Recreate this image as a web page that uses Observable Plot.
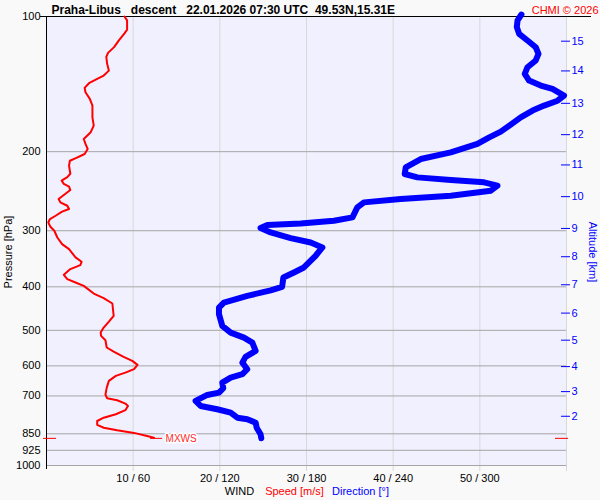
<!DOCTYPE html>
<html><head><meta charset="utf-8">
<script src="https://cdn.jsdelivr.net/npm/d3@7"></script>
<script src="https://cdn.jsdelivr.net/npm/@observablehq/plot@0.6"></script>
<style>body{margin:0;background:#f9f9f9;} svg text{white-space:pre;}</style>
</head><body>
<div id="chart"></div>
<script>
// Wind speed profile (pressure hPa, speed m/s)
const speedP = [100,102,107,109,113,117,120.5,123,127.5,132,135.4,137.7,140.8,144.2,147.5,152.6,157.9,167.7,175,181,187.4,192.2,197.2,202.4,206.5,209.5,214.9,224,228,232,236,239.3,243.5,249.8,255,259.4,263.9,268.4,272,277.8,282.6,287.5,294,300,310.6,321.3,329.6,344,351.8,357.8,365.2,376,384.5,391.3,398,414,424,435.7,464,478,493,505.8,514.5,526,546,557.6,573,584.8,597,610,621,631.7,648,670.8,696,708,715.5,728,737,753,769,782.5,796,812,824,835,846,860,867];
const speedV = [9.0,9.3,9.3,9.0,8.35,7.8,7.1,6.9,7.0,7.2,6.6,5.85,4.9,4.4,4.5,5.0,5.3,5.3,5.45,5.1,4.3,4.5,4.75,4.4,3.45,2.7,2.6,2.75,2.4,1.75,2.0,2.6,2.75,2.0,1.4,1.6,2.4,2.6,1.8,1.05,0.4,0.2,0.45,0.9,1.25,1.8,2.6,3.35,4.05,3.9,2.75,2.0,2.4,3.35,4.3,5.45,6.6,7.6,7.75,7.2,6.6,6.25,6.3,6.8,6.95,7.75,8.9,9.9,10.5,10.1,9.1,8.0,7.2,6.95,6.8,7.0,8.15,9.1,9.4,9.1,8.0,6.6,5.85,5.85,6.6,8.15,10.1,11.6,12.4];

// Wind direction profile (pressure hPa, direction deg)
const dirP = [99,102,105.6,109.3,113.1,117.1,121.1,125.3,129.7,134.2,138.9,142.5,145,150,154,157.9,162,167.7,174.1,180.5,186.1,192.2,200.7,207.7,216.8,224.3,228.2,231.3,234.1,238.1,244.3,250.7,255,259.4,266.2,280.2,285,289,291.4,295.9,302.7,311.5,318.6,326.9,341.1,362.2,371.6,381.3,400,407.3,419,433.6,444.9,460.2,488.7,505.8,519,532.5,555.6,573,590,610.3,626.2,637.2,653.9,672.9,688.3,696.4,718.1,737,749.3,762.6,782.5,788.9,802.9,823.7,851.9,869.7];
const dirV = [328.8,326.1,325.6,327.2,333.0,338.7,340.6,338.7,333.0,331.1,334.1,342.2,350.3,358.3,353.8,344.5,336.5,328.3,321.4,314.5,306.2,298.3,279.9,259.1,248.7,248.0,256.8,279.9,302.9,312.2,307.6,279.9,245.2,219.8,215.2,211.8,199.0,176.0,152.9,148.2,155.2,169.0,182.9,191.0,186.3,178.2,171.3,164.0,163.1,155.2,139.0,122.8,119.4,119.4,121.7,127.5,136.7,142.5,144.8,137.8,135.6,139.0,135.6,127.5,121.7,122.4,119.4,111.3,103.2,106.7,118.2,127.5,132.1,139.0,144.8,145.5,148.2,148.7];

// Axes
const pressureTicks = [100,200,300,400,500,600,700,850,925,1000];
const gridPressures = [200,300,400,500,600,700,850,925,1000];
const speedTicks = [10,20,30,40,50];
const speedTickLabels = ["10 / 60","20 / 120","30 / 180","40 / 240","50 / 300"];
const altKm = [15,14,13,12,11,10,9,8,7,6,5,4,3,2];
const altP  = [113.5,132.2,156.1,183.3,214.1,251.9,296.5,342.8,395.8,457.7,525.9,602.2,684.6,776.9];

// Max wind speed marker
const mxwsP = 870;
const mxwsSpeed = 12.7;

const titleText = "Praha-Libus   descent   22.01.2026 07:30 UTC  49.53N,15.31E";
const creditText = "CHMI © 2026";

const speedData = speedP.map((p,i)=>({p, s: speedV[i]}));
const dirData = dirP.map((p,i)=>({p, d: dirV[i]}));

const font = "'Liberation Sans', Arial, sans-serif";

const chart = Plot.plot({
  width: 600, height: 500,
  marginLeft: 46, marginRight: 34, marginTop: 16, marginBottom: 35,
  style: {background: "#f9f9f9", fontFamily: font, fontSize: "11px", overflow: "visible"},
  x: {domain: [0, 60], axis: null, label: null},
  y: {type: "log", domain: [100, 1000], reverse: true, axis: null, label: null},
  marks: [
    Plot.frame({fill: "#f0f0fe", stroke: null}),
    Plot.ruleX([...speedTicks, 60], {stroke: "#d8d8d8", insetBottom: -6}),
    Plot.ruleY(gridPressures, {stroke: "#a6a6a6"}),
    Plot.ruleY([100], {stroke: "black", insetLeft: -6, insetRight: -25}),
    Plot.ruleX([0], {stroke: "black", insetBottom: -4}),
    Plot.axisY({ticks: pressureTicks, anchor: "left", tickSize: 0, tickPadding: 6, fontSize: 11, fill: "black", label: null,
      tickFormat: p => String(p)}),
    Plot.axisY({ticks: altP, anchor: "right", tickSize: 9, tickPadding: 2, dx: -6, color: "#0000ff", stroke: "#0000ff", fontSize: 11, label: null,
      tickFormat: p => String(altKm[altP.indexOf(p)])}),
    Plot.axisX({ticks: speedTicks, anchor: "bottom", tickSize: 0, tickPadding: 9, fontSize: 11, fill: "black", label: null,
      tickFormat: v => speedTickLabels[speedTicks.indexOf(v)]}),
    // markers at max wind level
    Plot.ruleY([mxwsP], {stroke: "red", insetLeft: -3, insetRight: 510}),
    Plot.ruleY([mxwsP], {stroke: "red", insetLeft: 509, insetRight: -2}),
    Plot.line(dirData, {x: d => d.d / 6, y: "p", stroke: "#0000ff", strokeWidth: 6, strokeLinejoin: "round", strokeLinecap: "round"}),
    Plot.line(speedData, {x: "s", y: "p", stroke: "#ff0000", strokeWidth: 2}),
    Plot.ruleY([{p: mxwsP, s: mxwsSpeed}], {y: "p", x1: d => d.s - 0.7, x2: d => d.s + 0.7, stroke: "red"}),
    Plot.text([{p: mxwsP, s: mxwsSpeed}], {x: "s", y: "p", text: () => "MXWS", textAnchor: "start", dx: 9, fill: "#ff2a2a", stroke: "white", strokeWidth: 3, fontSize: 10}),
    // titles
    Plot.text([titleText], {frameAnchor: "top-left", textAnchor: "start", lineAnchor: "bottom", dx: 5, dy: -3, fontWeight: "bold", fontSize: 12, fill: "black"}),
    Plot.text([creditText], {frameAnchor: "top-right", textAnchor: "end", lineAnchor: "bottom", dx: 32, dy: -3, fontSize: 11, fill: "red"}),
    Plot.text(["Pressure [hPa]"], {frameAnchor: "left", textAnchor: "middle", rotate: -90, dx: -38, dy: 11, fontSize: 11, fill: "black"}),
    Plot.text(["Altitude [km]"], {frameAnchor: "right", textAnchor: "middle", rotate: 90, dx: 26, dy: 11, fontSize: 11, fill: "#0000ff"}),
    Plot.text(["WIND"], {frameAnchor: "bottom", lineAnchor: "middle", dx: -67, dy: 26, fontSize: 11, fill: "black"}),
    Plot.text(["Speed [m/s]"], {frameAnchor: "bottom", lineAnchor: "middle", dx: -12, dy: 26, fontSize: 11, fill: "red"}),
    Plot.text(["Direction [°]"], {frameAnchor: "bottom", lineAnchor: "middle", dx: 54, dy: 26, fontSize: 11, fill: "#0000ff"})
  ]
});
document.getElementById("chart").appendChild(chart);
</script>
</body></html>
